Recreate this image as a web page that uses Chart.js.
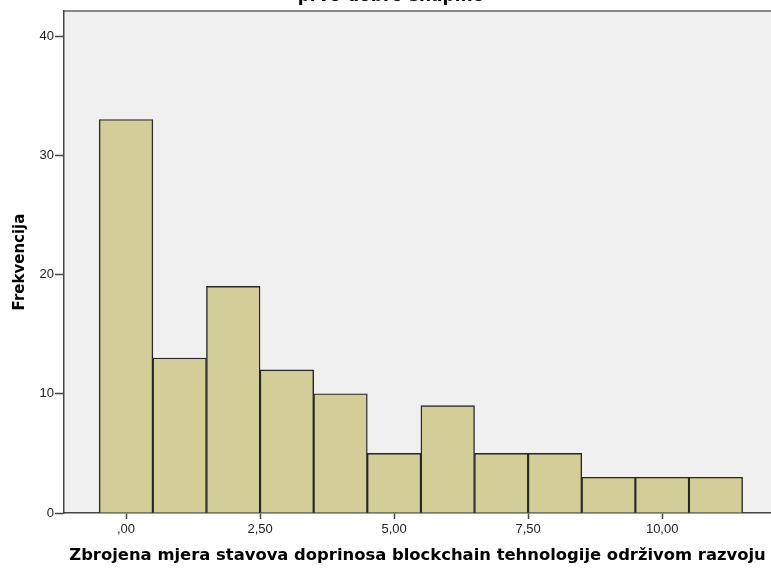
<!DOCTYPE html>
<html>
<head>
<meta charset="utf-8">
<script src="https://cdn.jsdelivr.net/npm/chart.js@4/dist/chart.umd.min.js"></script>
<style>
  html, body { margin: 0; padding: 0; background: #fff; }
  #wrap { width: 771px; height: 570px; }
</style>
</head>
<body>
<div id="wrap"><canvas id="myChart" width="771" height="570"></canvas></div>
<script>
// Histogram data (bin centres and frequencies)
const binCenters = [0, 1, 2, 3, 4, 5, 6, 7, 8, 9, 10, 11];
const frequencies = [33, 13, 19, 12, 10, 5, 9, 5, 5, 3, 3, 3];
const xTicks = [0, 2.5, 5, 7.5, 10];
const yTicks = [0, 10, 20, 30, 40];
const chartTitle = "prvo dobro snapino";
const xTitle = "Zbrojena mjera stavova doprinosa blockchain tehnologije održivom razvoju";
const yTitle = "Frekvencija";

const axisColor = "#444444";

// Pozadina i gornji rub plota, plus naslov koji je odsječen na vrhu
const plotDecor = {
  id: "plotDecor",
  beforeDraw(chart) {
    const { ctx, chartArea: a } = chart;
    ctx.save();
    ctx.fillStyle = "#f0f0f0";
    ctx.fillRect(a.left, a.top, a.right - a.left, a.bottom - a.top);
    ctx.strokeStyle = "#888888";
    ctx.lineWidth = 2;
    ctx.beginPath();
    ctx.moveTo(a.left, a.top);
    ctx.lineTo(a.right, a.top);
    ctx.stroke();
    ctx.fillStyle = "#000";
    ctx.font = "bold 17px 'DejaVu Sans', sans-serif";
    ctx.textAlign = "center";
    ctx.textBaseline = "alphabetic";
    ctx.fillText(chartTitle, 391, 1);
    ctx.restore();
  },
};

const data = binCenters.map((c, i) => ({ x: c, y: frequencies[i] }));

var ctx = document.getElementById("myChart").getContext("2d");
var myChart = new Chart(ctx, {
  type: "bar",
  data: {
    datasets: [
      {
        data: data,
        backgroundColor: "#d3ce97",
        borderColor: "#262626",
        borderWidth: 1.4,
        barPercentage: 1,
        categoryPercentage: 1,
      },
    ],
  },
  options: {
    responsive: false,
    animation: false,
    layout: { padding: { top: 11, right: 0, left: 0, bottom: 0 } },
    plugins: {
      legend: { display: false },
      tooltip: { enabled: false },
    },
    scales: {
      x: {
        type: "linear",
        offset: false,
        min: -1.157,
        max: 12.03,
        afterBuildTicks: (s) => { s.ticks = xTicks.map((v) => ({ value: v })); },
        afterFit: (s) => { s.height = 57; },
        grid: { offset: false, drawOnChartArea: false, tickLength: 6, tickColor: axisColor, tickWidth: 1.5 },
        border: { color: axisColor, width: 1.5 },
        ticks: {
          color: "#222",
          font: { family: "'Liberation Sans', Arial, sans-serif", size: 13 },
          padding: 3,
          maxRotation: 0,
          callback: (v) => (v === 0 ? ",00" : v.toFixed(2).replace(".", ",")),
        },
        title: {
          display: true,
          text: xTitle,
          color: "#000",
          font: { family: "'DejaVu Sans', sans-serif", size: 16.4, weight: "bold" },
          padding: { top: 0, bottom: 4 },
        },
      },
      y: {
        min: 0,
        max: 42.1,
        afterBuildTicks: (s) => { s.ticks = yTicks.map((v) => ({ value: v })); },
        afterFit: (s) => { s.width = 64; },
        grid: { drawOnChartArea: false, tickLength: 9, tickColor: axisColor, tickWidth: 1.5 },
        border: { color: axisColor, width: 1.5 },
        ticks: {
          color: "#222",
          font: { family: "'Liberation Sans', Arial, sans-serif", size: 13 },
          padding: 1,
        },
        title: {
          display: true,
          text: yTitle,
          color: "#000",
          font: { family: "'DejaVu Sans', sans-serif", size: 15, weight: "bold" },
          padding: { top: 11, bottom: 0 },
        },
      },
    },
  },
  plugins: [plotDecor],
});
</script>
</body>
</html>
